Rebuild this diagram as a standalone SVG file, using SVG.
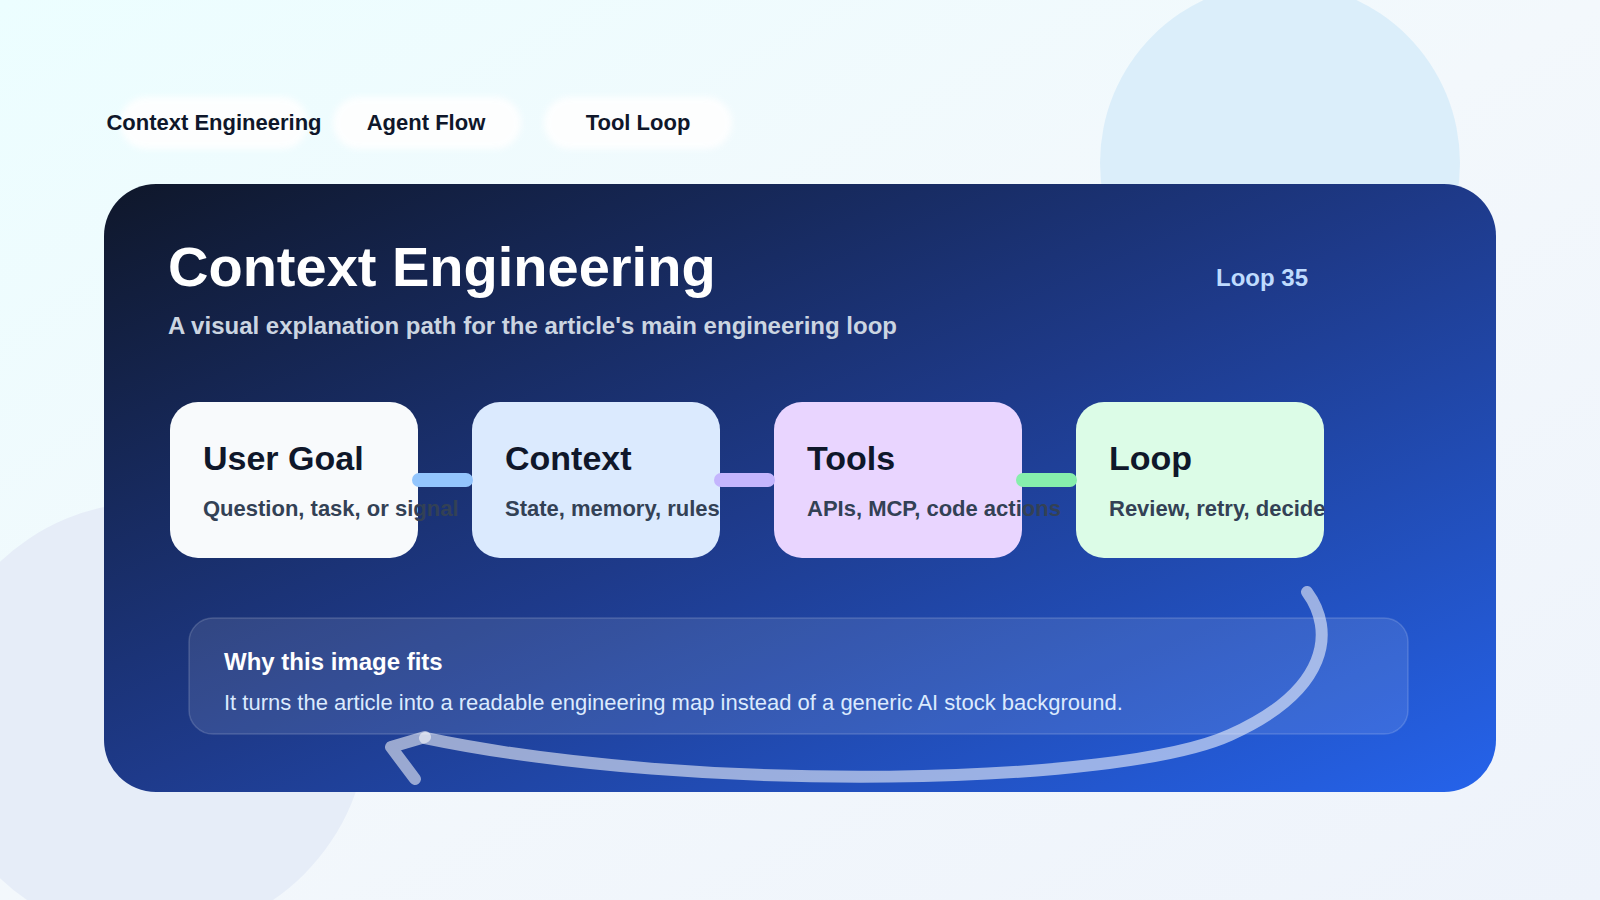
<svg xmlns="http://www.w3.org/2000/svg" width="1600" height="900" viewBox="0 0 1600 900">
  <defs>
    <linearGradient id="bg" x1="0" y1="0" x2="1" y2="1">
      <stop offset="0" stop-color="#ecfeff"/>
      <stop offset="0.5" stop-color="#f3f8fc"/>
      <stop offset="1" stop-color="#eef3fb"/>
    </linearGradient>
    <linearGradient id="panelGrad" x1="0" y1="0" x2="1" y2="1">
      <stop offset="0" stop-color="#0f172a"/>
      <stop offset="0.5" stop-color="#1e3a8a"/>
      <stop offset="1" stop-color="#2563eb"/>
    </linearGradient>
    <filter id="soft" x="-20%" y="-40%" width="140%" height="180%">
      <feGaussianBlur stdDeviation="3"/>
    </filter>
    <style>
      .pill { fill: #ffffff; opacity: 0.9; }
      .pillText { font-family: "Liberation Sans", Arial, sans-serif; font-weight: 700; font-size: 22px; fill: #0f172a; text-anchor: middle; }
      .title { font-family: "Liberation Sans", Arial, sans-serif; font-weight: 700; font-size: 56px; fill: #ffffff; }
      .subtitle { font-family: "Liberation Sans", Arial, sans-serif; font-weight: 700; font-size: 24px; fill: #cbd5e1; }
      .badge { font-family: "Liberation Sans", Arial, sans-serif; font-weight: 700; font-size: 24px; fill: #bfdbfe; }
      .cardTitle { font-family: "Liberation Sans", Arial, sans-serif; font-weight: 700; font-size: 34px; fill: #0f172a; }
      .cardText { font-family: "Liberation Sans", Arial, sans-serif; font-weight: 700; font-size: 22px; fill: #334155; }
      .link { stroke-width: 14; stroke-linecap: round; fill: none; }
      .loop { stroke: #ffffff; stroke-opacity: 0.55; stroke-width: 12; stroke-linecap: round; stroke-linejoin: round; fill: none; }
      .whyTitle { font-family: "Liberation Sans", Arial, sans-serif; font-weight: 700; font-size: 24px; fill: #ffffff; }
      .whyText { font-family: "Liberation Sans", Arial, sans-serif; font-size: 22px; fill: #dbeafe; }
    </style>
  </defs>

  <!-- background -->
  <rect x="0" y="0" width="1600" height="900" fill="url(#bg)"/>
  <circle cx="1280" cy="163" r="180" fill="#dbeefa"/>
  <circle cx="150" cy="720" r="218" fill="#e6edf8"/>

  <!-- tabs -->
  <g id="tab-context-engineering">
    <rect class="pill" x="120" y="97" width="188" height="52" rx="26" filter="url(#soft)"/>
    <text class="pillText" x="214" y="130">Context Engineering</text>
  </g>
  <g id="tab-agent-flow">
    <rect class="pill" x="333" y="97" width="188" height="52" rx="26" filter="url(#soft)"/>
    <text class="pillText" x="426" y="130">Agent Flow</text>
  </g>
  <g id="tab-tool-loop">
    <rect class="pill" x="544" y="97" width="188" height="52" rx="26" filter="url(#soft)"/>
    <text class="pillText" x="638" y="130">Tool Loop</text>
  </g>

  <!-- main panel -->
  <g id="panel">
    <rect x="104" y="184" width="1392" height="608" rx="52" fill="url(#panelGrad)"/>
    <text class="title" x="168" y="286">Context Engineering</text>
    <text class="subtitle" x="168" y="334">A visual explanation path for the article's main engineering loop</text>
    <text class="badge" x="1216" y="286">Loop 35</text>
  </g>

  <!-- cards -->
  <g id="node-user-goal">
    <rect x="170" y="402" width="248" height="156" rx="28" fill="#f8fafc"/>
    <text class="cardTitle" x="203" y="470">User Goal</text>
    <text class="cardText" x="203" y="516">Question, task, or signal</text>
  </g>
  <g id="node-context">
    <rect x="472" y="402" width="248" height="156" rx="28" fill="#dbeafe"/>
    <text class="cardTitle" x="505" y="470">Context</text>
    <text class="cardText" x="505" y="516">State, memory, rules</text>
  </g>
  <g id="node-tools">
    <rect x="774" y="402" width="248" height="156" rx="28" fill="#e9d5ff"/>
    <text class="cardTitle" x="807" y="470">Tools</text>
    <text class="cardText" x="807" y="516">APIs, MCP, code actions</text>
  </g>
  <g id="node-loop">
    <rect x="1076" y="402" width="248" height="156" rx="28" fill="#dcfce7"/>
    <text class="cardTitle" x="1109" y="470">Loop</text>
    <text class="cardText" x="1109" y="516">Review, retry, decide</text>
  </g>

  <!-- explanation box -->
  <g id="why-box">
    <rect x="189" y="618" width="1219" height="116" rx="24" fill="#ffffff" fill-opacity="0.1" stroke="#ffffff" stroke-opacity="0.16" stroke-width="1.5"/>
    <text class="whyTitle" x="224" y="670">Why this image fits</text>
    <text class="whyText" x="224" y="710">It turns the article into a readable engineering map instead of a generic AI stock background.</text>
  </g>

  <!-- connectors -->
  <g id="connectors">
    <line class="link" x1="419" y1="480" x2="466" y2="480" stroke="#93c5fd"/>
    <line class="link" x1="721" y1="480" x2="768" y2="480" stroke="#c4b5fd"/>
    <line class="link" x1="1023" y1="480" x2="1070" y2="480" stroke="#86efac"/>
    <path class="loop" d="M 1307 592 C 1335 630, 1330 690, 1230 735 C 1120 785, 700 795, 425 738"/>
    <path class="loop" d="M 425 737 L 391 747 L 415 779"/>
  </g>
</svg>
